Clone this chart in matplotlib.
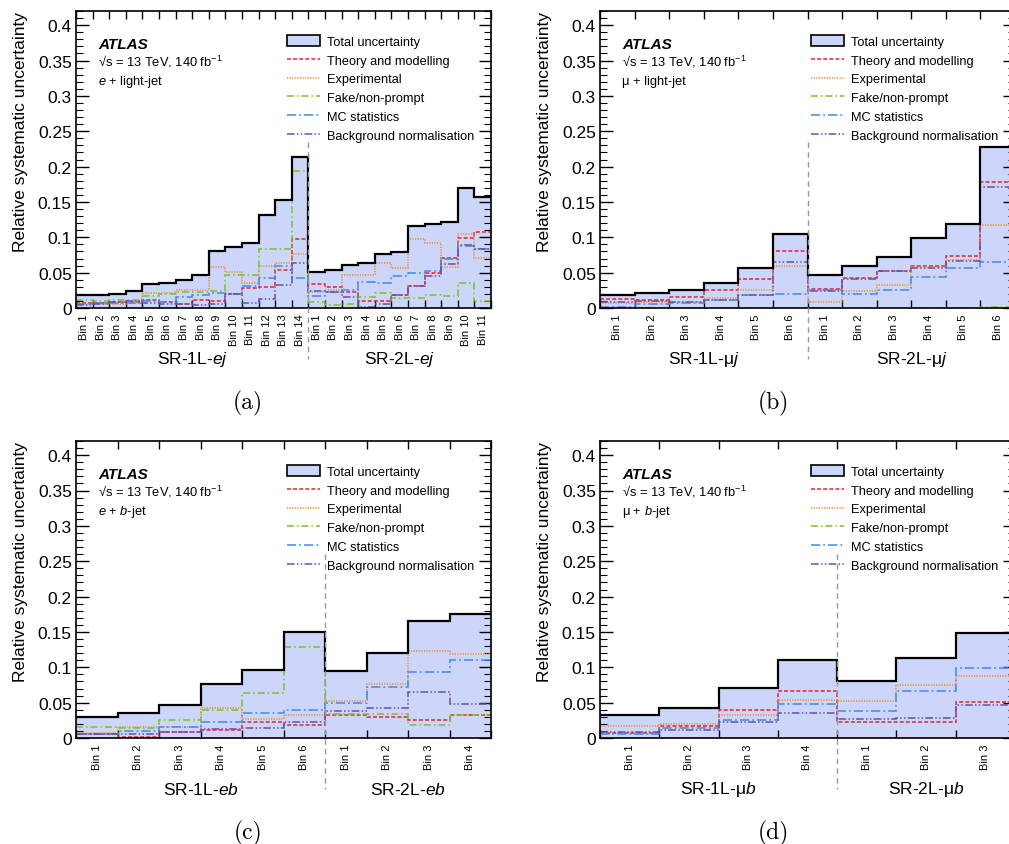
import matplotlib
matplotlib.use('Agg')
import matplotlib.pyplot as plt
from matplotlib.patches import Patch
from matplotlib.lines import Line2D
import numpy as np

plt.rcParams['font.family'] = ['Liberation Sans', 'DejaVu Sans']
plt.rcParams['mathtext.fontset'] = 'custom'
plt.rcParams['mathtext.rm'] = 'Liberation Sans'
plt.rcParams['mathtext.it'] = 'Liberation Sans:italic'
plt.rcParams['mathtext.bf'] = 'Liberation Sans:bold'

# ---------------- data ----------------
# Panel (a): e + light-jet  (SR-1L: 14 bins, SR-2L: 11 bins)
a_nbins = [14, 11]
a_total = [0.019, 0.018, 0.020, 0.024, 0.034, 0.036, 0.040, 0.046, 0.081, 0.086, 0.092, 0.132, 0.153, 0.214,
           0.051, 0.054, 0.0615, 0.064, 0.076, 0.079, 0.1165, 0.119, 0.121, 0.169, 0.157]
a_theory = [0.0066, 0.0075, 0.008, 0.009, 0.011, 0.009, 0.006, 0.011, 0.010, 0.020, 0.028, 0.030, 0.054, 0.097,
            0.034, 0.029, 0.022, 0.010, 0.010, 0.019, 0.031, 0.049, 0.071, 0.099, 0.107]
a_exper = [0.006, 0.006, 0.006, 0.007, 0.0216, 0.0216, 0.025, 0.025, 0.0575, 0.051, 0.035, 0.060, 0.063, 0.076,
           0.023, 0.026, 0.047, 0.046, 0.064, 0.057, 0.097, 0.092, 0.058, 0.104, 0.071]
a_fake = [0.012, 0.010, 0.011, 0.012, 0.017, 0.020, 0.022, 0.022, 0.024, 0.046, 0.046, 0.083, 0.083, 0.194,
          0.008, 0.004, 0.005, 0.016, 0.021, 0.014, 0.014, 0.019, 0.017, 0.036, 0.010]
a_mc = [0.005, 0.0066, 0.0075, 0.0075, 0.010, 0.009, 0.0155, 0.019, 0.021, 0.020, 0.0315, 0.043, 0.059, 0.043,
        0.017, 0.023, 0.026, 0.037, 0.035, 0.045, 0.049, 0.053, 0.070, 0.087, 0.084]
a_bkg = [0.004, 0.006, 0.008, 0.010, 0.007, 0.006, 0.005, 0.004, 0.005, 0.020, 0.007, 0.013, 0.032, 0.064,
         0.024, 0.023, 0.015, 0.002, 0.005, 0.018, 0.031, 0.045, 0.062, 0.089, 0.083]

# Panel (b): mu + light-jet (6 + 6 bins)
b_nbins = [6, 6]
b_total = [0.019, 0.021, 0.025, 0.036, 0.057, 0.104, 0.047, 0.059, 0.072, 0.099, 0.119, 0.228]
b_theory = [0.013, 0.011, 0.016, 0.026, 0.041, 0.080, 0.027, 0.042, 0.053, 0.060, 0.074, 0.178]
b_exper = [0.007, 0.009, 0.008, 0.014, 0.025, 0.059, 0.0085, 0.024, 0.033, 0.058, 0.068, 0.117]
b_fake = [0.0007, 0.0007, 0.0007, 0.0007, 0.0007, 0.0007, 0.0007, 0.0007, 0.0007, 0.0007, 0.0007, 0.002]
b_mc = [0.001, 0.005, 0.007, 0.012, 0.019, 0.020, 0.026, 0.020, 0.026, 0.044, 0.056, 0.065]
b_bkg = [0.009, 0.010, 0.009, 0.012, 0.019, 0.065, 0.024, 0.041, 0.052, 0.057, 0.066, 0.171]

# Panel (c): e + b-jet (6 + 4 bins)
c_nbins = [6, 4]
c_total = [0.029, 0.036, 0.047, 0.077, 0.096, 0.150, 0.095, 0.120, 0.165, 0.175]
c_theory = [0.006, 0.002, 0.0085, 0.012, 0.023, 0.019, 0.032, 0.029, 0.025, 0.033]
c_exper = [0.007, 0.015, 0.016, 0.042, 0.027, 0.032, 0.052, 0.076, 0.123, 0.119]
c_fake = [0.015, 0.014, 0.025, 0.040, 0.063, 0.129, 0.034, 0.034, 0.018, 0.033]
c_mc = [0.005, 0.010, 0.016, 0.023, 0.035, 0.039, 0.050, 0.072, 0.094, 0.111]
c_bkg = [0.005, 0.006, 0.0085, 0.013, 0.014, 0.022, 0.038, 0.043, 0.065, 0.048]

# Panel (d): mu + b-jet (4 + 3 bins)
d_nbins = [4, 3]
d_total = [0.032, 0.042, 0.071, 0.110, 0.081, 0.113, 0.149]
d_theory = [0.007, 0.017, 0.040, 0.067, 0.023, 0.023, 0.051]
d_exper = [0.017, 0.020, 0.032, 0.054, 0.052, 0.075, 0.088]
d_fake = [0.0007, 0.0007, 0.0007, 0.0007, 0.0007, 0.0007, 0.0007]
d_mc = [0.006, 0.014, 0.026, 0.048, 0.038, 0.067, 0.099]
d_bkg = [0.008, 0.011, 0.022, 0.035, 0.027, 0.028, 0.046]

legend_labels = ['Total uncertainty', 'Theory and modelling', 'Experimental',
                 'Fake/non-prompt', 'MC statistics', 'Background normalisation']
channel_labels = [r'$\mathit{e}$ + light-jet', 'μ + light-jet',
                  r'$\mathit{e}$ + $\mathit{b}$-jet', r'μ + $\mathit{b}$-jet']
region_labels = [[r'SR-1L-$\mathit{ej}$', r'SR-2L-$\mathit{ej}$'],
                 [r'SR-1L-μ$\mathit{j}$', r'SR-2L-μ$\mathit{j}$'],
                 [r'SR-1L-$\mathit{eb}$', r'SR-2L-$\mathit{eb}$'],
                 [r'SR-1L-μ$\mathit{b}$', r'SR-2L-μ$\mathit{b}$']]
panel_tags = ['(a)', '(b)', '(c)', '(d)']
ytick_vals = [0, 0.05, 0.1, 0.15, 0.2, 0.25, 0.3, 0.35, 0.4]
ytick_labels = ['0', '0.05', '0.1', '0.15', '0.2', '0.25', '0.3', '0.35', '0.4']

# ---------------- style ----------------
fill_col = '#ccd6fa'
styles = [
    dict(color='#e8232b', dashes=(2.6, 1.4)),          # theory
    dict(color='#f58a1f', dashes=(0.8, 0.9)),          # experimental
    dict(color='#7cc21d', dashes=(4.5, 2.0, 1.0, 2.0)),  # fake
    dict(color='#3d8bf0', dashes=(6.0, 2.0, 1.2, 2.0)),  # mc stat
    dict(color='#6b4fa8', dashes=(5.0, 1.5, 1.0, 1.5, 1.0, 1.5)),  # bkg norm
]

panels = [
    (a_nbins, a_total, [a_theory, a_exper, a_fake, a_mc, a_bkg]),
    (b_nbins, b_total, [b_theory, b_exper, b_fake, b_mc, b_bkg]),
    (c_nbins, c_total, [c_theory, c_exper, c_fake, c_mc, c_bkg]),
    (d_nbins, d_total, [d_theory, d_exper, d_fake, d_mc, d_bkg]),
]

W, H = 1009, 845
fig = plt.figure(figsize=(W / 100, H / 100), dpi=100)

ax_w = 415 / W
ax_h = 297 / H
lefts = [76 / W, 600 / W, 76 / W, 600 / W]
bottoms = [(H - 309) / H, (H - 309) / H, (H - 739) / H, (H - 739) / H]
sep_tops = [0.235, 0.235, 0.26, 0.26]
tag_x = [248 / W, 773 / W, 248 / W, 773 / W]
tag_y = [(H - 403) / H, (H - 403) / H, (H - 833) / H, (H - 833) / H]

for i, (nb, total, comps) in enumerate(panels):
    ax = fig.add_axes([lefts[i], bottoms[i], ax_w, ax_h])
    n = len(total)
    edges = np.arange(n + 1)
    ax.stairs(total, edges, fill=True, color=fill_col, lw=0, zorder=1)
    for vals, st in zip(comps, styles):
        ax.stairs(vals, edges, baseline=None, color=st['color'], lw=1.1,
                  linestyle=(0, st['dashes']), zorder=2)
    ax.stairs(total, edges, baseline=None, color='black', lw=1.6, zorder=3)
    ax.set_xlim(0, n)
    ax.set_ylim(0, 0.42)

    # ticks
    ax.set_yticks(ytick_vals)
    ax.set_yticklabels(ytick_labels)
    ax.set_yticks(np.arange(0, 0.421, 0.01), minor=True)
    ax.set_xticks(edges)
    ax.set_xticklabels([])
    centers = edges[:-1] + 0.5
    bin_labels = ['Bin %d' % (k + 1) for k in range(nb[0])] + ['Bin %d' % (k + 1) for k in range(nb[1])]
    ax.set_xticks(centers, minor=True)
    ax.set_xticklabels(bin_labels, minor=True, rotation=90, fontsize=8)
    ax.tick_params(axis='x', which='minor', length=0, pad=4)
    ax.tick_params(axis='x', which='major', direction='in', length=6, top=True, bottom=True, width=1)
    ax.tick_params(axis='y', which='major', direction='in', length=9, left=True, right=True,
                   labelsize=12.5, pad=3, width=1)
    ax.tick_params(axis='y', which='minor', direction='in', length=5, left=True, right=True, width=0.8)
    for sp in ax.spines.values():
        sp.set_linewidth(1.2)

    ax.set_ylabel('Relative systematic uncertainty', fontsize=12.5, loc='top')
    ax.yaxis.set_label_coords(-0.115, 1.0)

    # separator
    xs = nb[0]
    ax.plot([xs, xs], [sep_tops[i], -0.072], color='#999999', lw=1.0,
            linestyle=(0, (4, 3)), clip_on=False, zorder=4)
    # region labels
    ax.text(nb[0] / 2, -0.072, region_labels[i][0], ha='center', va='center', fontsize=12.5)
    ax.text(nb[0] + nb[1] / 2, -0.072, region_labels[i][1], ha='center', va='center', fontsize=12.5)

    # ATLAS label
    ax.text(0.053, 0.889, 'ATLAS', transform=ax.transAxes, fontsize=11, fontweight='bold',
            fontstyle='italic', va='center', ha='left')
    ax.text(0.053, 0.832, '√s = 13 TeV, 140 fb$^{-1}$', transform=ax.transAxes, fontsize=9.3,
            va='center', ha='left')
    ax.text(0.053, 0.764, channel_labels[i], transform=ax.transAxes, fontsize=9.3,
            va='center', ha='left')

    handles = [Patch(facecolor=fill_col, edgecolor='black', lw=1.2)]
    for st in styles:
        handles.append(Line2D([], [], color=st['color'], lw=1.1, linestyle=(0, st['dashes'])))
    ax.legend(handles, legend_labels, loc='upper left', bbox_to_anchor=(0.508, 0.920),
              frameon=False, fontsize=9.2, handlelength=2.6, handleheight=0.95,
              handletextpad=0.55, labelspacing=0.47, borderpad=0, borderaxespad=0)

    fig.text(tag_x[i], tag_y[i], panel_tags[i], family='cmr10', fontsize=17,
             ha='center', va='center')

fig.savefig('out.png', dpi=100)
